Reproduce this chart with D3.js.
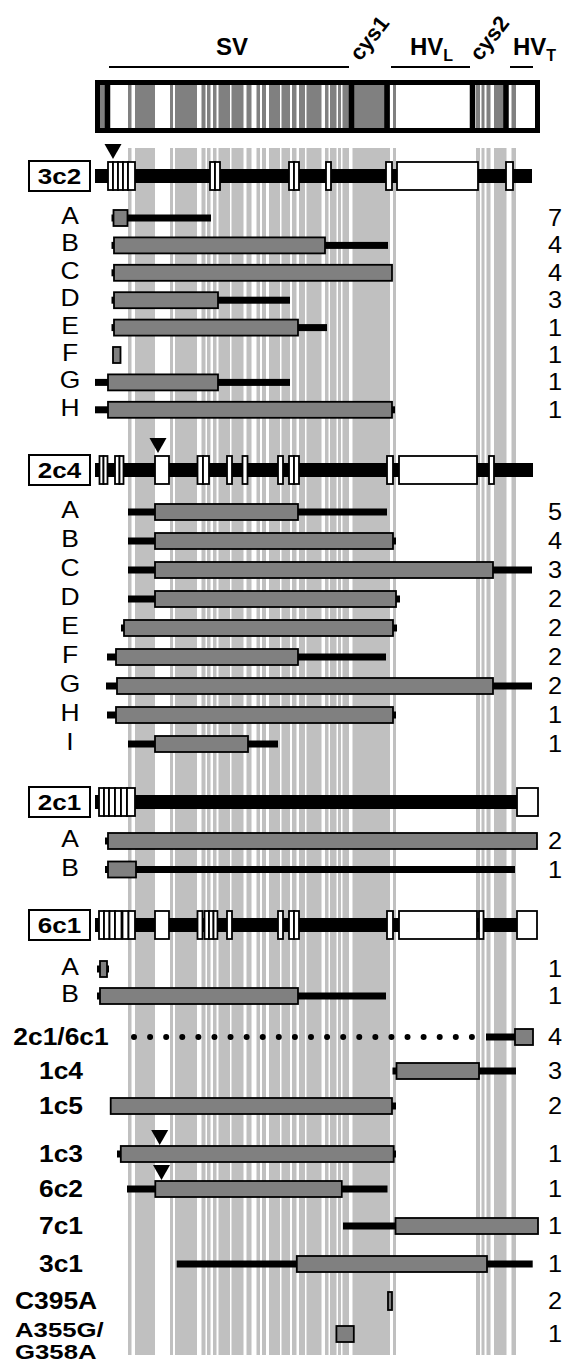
<!DOCTYPE html>
<html>
<head>
<meta charset="utf-8">
<script src="https://cdn.jsdelivr.net/npm/d3@7"></script>
<style>
  body { margin: 0; background: #fff; }
  text { font-family: "Liberation Sans", Arial, Helvetica, sans-serif; fill: #000; }
</style>
</head>
<body>
<svg id="chart"></svg>
<script>
// ---- data (positions along the sequence, arbitrary units) ----
const stripes = [
  [33, 36.5], [40, 60], [75, 78], [80, 102], [106.5, 110.5], [112, 115.5], [118, 121.5],
  [123.5, 135], [136.5, 148.5], [151.5, 156.5], [161.5, 165], [167, 171], [174, 185],
  [186.5, 195], [197, 201.5], [204, 210], [211.5, 226.5], [230, 233.5], [235, 241.5],
  [243, 246], [247.5, 254], [257.5, 295], [298, 301], [381, 385], [386.5, 389.5],
  [391.5, 395.5], [399, 411.5], [416.5, 421]
];
const topOnlyStripes = [[5, 10]];
const dividers = [12.5, 256.5, 292, 377.5, 411];
const regionLines = [[14, 254], [296, 375], [415, 438]];
const regionNames = ["SV", "cys1", "HVL", "cys2", "HVT"];

const geneNames = ["3c2", "2c4", "2c1", "6c1"];
const geneBars = [[0, 437], [0, 438], [0, 422], [0, 422]];
const geneMarks = [18, 63, null, null];
const exons3c2 = [[13, 18], [18, 23], [23, 28], [28, 33], [33, 40], [115, 120], [120, 125],
  [194, 199], [199, 204], [231, 236], [291, 297], [302, 383], [411, 418]];
const exons2c4 = [[4.5, 8.5], [8.5, 12.5], [20, 24.5], [24.5, 28.5], [60, 74], [102.5, 108], [108, 114],
  [132, 137], [147.5, 152.5], [183, 188], [194, 199], [199, 204], [292, 298], [304, 382], [394, 399]];
const exons2c1 = [[4, 9], [9, 14], [14, 20], [20, 26], [26, 32], [32, 40], [422, 443]];
const exons6c1 = [[4, 9], [9, 14.5], [14.5, 20], [20, 26.5], [27.5, 33.5], [33.5, 40], [60, 74],
  [102.5, 107.5], [109.5, 114], [114, 118.5], [118.5, 122.5], [132, 137], [183, 188],
  [194, 199], [199, 204], [292, 298], [304, 382], [384, 388.5], [422, 442]];

const rows3c2 = [
  { label: "A", line: [16.5, 116], box: [18.5, 32.5], n: 7 },
  { label: "B", line: [16.5, 293], box: [19, 230], n: 4 },
  { label: "C", line: [16.5, 297], box: [19, 297], n: 4 },
  { label: "D", line: [16.5, 195], box: [19, 123], n: 3 },
  { label: "E", line: [16.5, 232], box: [19, 203], n: 1 },
  { label: "F", line: null, box: [18, 25.5], n: 1 },
  { label: "G", line: [0, 195], box: [13, 123], n: 1 },
  { label: "H", line: [0, 300], box: [13, 297], n: 1 }
];
const rows2c4 = [
  { label: "A", line: [33, 292], box: [60, 203], n: 5 },
  { label: "B", line: [33, 301], box: [60, 298], n: 4 },
  { label: "C", line: [33, 437], box: [60, 398], n: 3 },
  { label: "D", line: [33, 305], box: [60, 301], n: 2 },
  { label: "E", line: [26, 302], box: [29, 298], n: 2 },
  { label: "F", line: [12, 291], box: [21, 203], n: 2 },
  { label: "G", line: [11, 437], box: [22, 398], n: 2 },
  { label: "H", line: [12, 301], box: [21, 298], n: 1 },
  { label: "I", line: [33, 183], box: [60, 153], n: 1 }
];
const rows2c1 = [
  { label: "A", line: [10, 440], box: [13, 442], n: 2 },
  { label: "B", line: [10, 420], box: [13, 41], n: 1 }
];
const rows6c1 = [
  { label: "A", line: [2, 14], box: [5, 12], n: 1 },
  { label: "B", line: [2, 291], box: [5, 203], n: 1 }
];
const otherRows = [
  { label: "2c1/6c1", dots: [39, 377], line: [391, 420], box: [420, 438], n: 4 },
  { label: "1c4", line: [297.5, 421], box: [301.5, 384], n: 3 },
  { label: "1c5", line: [15.7, 301], box: [15.7, 297], n: 2 },
  { label: "1c3", line: [22, 301], box: [25.8, 298.7], n: 1, mark: 64.7 },
  { label: "6c2", line: [32, 292.5], box: [60.3, 246.8], n: 1, mark: 66.5 },
  { label: "7c1", line: [248, 300.5], box: [300.5, 443], n: 1 },
  { label: "3c1", line: [81.7, 437.7], box: [201.8, 392], n: 1 },
  { label: "C395A", line: null, box: [293, 297], n: 2 },
  { label: "A355G/|G358A", line: null, box: [241.4, 258.8], n: 1 }
];

// ---- layout ----
const width = 569, height = 1364;
const x = d3.scaleLinear().domain([0, 445]).range([95, 540]);
const blocks = [
  { exons: exons3c2, rows: rows3c2, headY: 176, firstY: 218, step: 27.4 },
  { exons: exons2c4, rows: rows2c4, headY: 470, firstY: 512, step: 29 },
  { exons: exons2c1, rows: rows2c1, headY: 802, firstY: 841, step: 28.5 },
  { exons: exons6c1, rows: rows6c1, headY: 925, firstY: 969, step: 27 }
];
const otherY = [1037, 1071, 1106, 1154, 1189, 1226, 1264, 1301, 1334];

const svg = d3.select("#chart").attr("width", width).attr("height", height);

// text drawn slightly wider than the font, like the original artwork
function label(g, str, cx, cy, size, opts = {}) {
  const t = g.append("text")
    .attr("transform", `translate(${cx},${cy}) scale(${opts.sx || 1},1)`)
    .attr("dy", "0.35em")
    .attr("text-anchor", opts.anchor || "middle")
    .attr("font-size", size)
    .attr("font-weight", opts.bold ? "bold" : "normal")
    .text(str);
  return t;
}

// light gray conservation stripes behind everything
svg.append("g").selectAll("rect")
  .data(stripes)
  .join("rect")
  .attr("x", d => x(d[0]))
  .attr("width", d => x(d[1]) - x(d[0]))
  .attr("y", 148)
  .attr("height", 1207)
  .attr("fill", "#c0c0c0");

// header labels and lines
const head = svg.append("g");
head.selectAll("line")
  .data(regionLines)
  .join("line")
  .attr("x1", d => x(d[0])).attr("x2", d => x(d[1]))
  .attr("y1", 67).attr("y2", 67)
  .attr("stroke", "#000").attr("stroke-width", 2);

head.append("text").attr("x", x(137)).attr("y", 55)
  .attr("text-anchor", "middle").attr("font-weight", "bold").attr("font-size", 24)
  .text(regionNames[0]);

[[regionNames[1], (dividers[1] + dividers[2]) / 2], [regionNames[3], (dividers[3] + dividers[4]) / 2]]
  .forEach(([t, p]) => {
    head.append("text")
      .attr("transform", `translate(${x(p)},38) rotate(-52)`)
      .attr("text-anchor", "middle").attr("dy", "0.35em")
      .attr("font-weight", "bold").attr("font-size", 22)
      .text(t);
  });

[[regionNames[2], 315], [regionNames[4], 418]].forEach(([t, p]) => {
  const tx = head.append("text").attr("x", x(p)).attr("y", 55)
    .attr("font-weight", "bold").attr("font-size", 24);
  tx.append("tspan").text(t.slice(0, 2));
  tx.append("tspan").attr("dy", 6).attr("font-size", 16).text(t.slice(2));
});

// top domain bar
const domainBar = svg.append("g");
domainBar.append("rect").attr("x", x(0)).attr("y", 80).attr("width", x(445) - x(0)).attr("height", 53).attr("fill", "#fff");
domainBar.selectAll("rect.s")
  .data(stripes.concat(topOnlyStripes))
  .join("rect").attr("class", "s")
  .attr("x", d => x(d[0]))
  .attr("width", d => Math.min(x(d[1]), x(442.5)) - x(d[0]))
  .attr("y", 82).attr("height", 49)
  .attr("fill", "#808080");
domainBar.append("rect").attr("x", x(0) + 2.5).attr("y", 82.5)
  .attr("width", x(445) - x(0) - 5).attr("height", 48)
  .attr("fill", "none").attr("stroke", "#000").attr("stroke-width", 5);
domainBar.selectAll("line.d")
  .data(dividers)
  .join("line").attr("class", "d")
  .attr("x1", d => x(d)).attr("x2", d => x(d))
  .attr("y1", 80).attr("y2", 133)
  .attr("stroke", "#000").attr("stroke-width", 5.5);

// helpers
function triangle(g, px, tipY) {
  g.append("path")
    .attr("d", `M${px - 8.5},${tipY - 15}L${px + 8.5},${tipY - 15}L${px},${tipY}Z`)
    .attr("fill", "#000");
}

function fragment(g, d, y, h = 16) {
  if (d.line) {
    g.append("rect")
      .attr("x", x(d.line[0])).attr("width", x(d.line[1]) - x(d.line[0]))
      .attr("y", y - 3.5).attr("height", 7).attr("fill", "#000");
  }
  g.append("rect")
    .attr("x", x(d.box[0])).attr("width", x(d.box[1]) - x(d.box[0]))
    .attr("y", y - h / 2).attr("height", h)
    .attr("fill", "#808080").attr("stroke", "#000").attr("stroke-width", 1.8);
}

function count(g, n, y) {
  label(g, n, 555, y, 23, { sx: 1.1 });
}

// clone blocks
blocks.forEach((b, i) => {
  const g = svg.append("g");
  const y0 = b.headY;
  g.append("rect").attr("x", 29).attr("y", y0 - 15).attr("width", 61).attr("height", 30)
    .attr("fill", "#fff").attr("stroke", "#000").attr("stroke-width", 2);
  label(g, geneNames[i], 59.5, y0 + 0.5, 22, { bold: true, sx: 1.18 });

  const bar = geneBars[i];
  g.append("rect").attr("x", x(bar[0])).attr("width", x(bar[1]) - x(bar[0]))
    .attr("y", y0 - 7).attr("height", 14).attr("fill", "#000");
  g.selectAll("rect.ex")
    .data(b.exons)
    .join("rect").attr("class", "ex")
    .attr("x", d => x(d[0])).attr("width", d => x(d[1]) - x(d[0]))
    .attr("y", y0 - 14).attr("height", 28)
    .attr("fill", "#fff").attr("stroke", "#000").attr("stroke-width", 1.8);
  if (geneMarks[i] != null) triangle(g, x(geneMarks[i]), y0 - 17);

  b.rows.forEach((r, j) => {
    const y = b.firstY + j * b.step;
    label(g, r.label, 70, y - 2, 23, { sx: 1.15 });
    fragment(g, r, y);
    count(g, r.n, y);
  });
});

// other clones and point mutants
const og = svg.append("g");
otherRows.forEach((r, j) => {
  const y = otherY[j];
  const parts = r.label.split("|");
  if (parts.length > 1) {
    // two-line label kept in a single text element
    const t = label(og, "", 15, y - 4, 19.5, { bold: true, sx: 1.32, anchor: "start" });
    t.append("tspan").attr("x", 0).text(parts[0]);
    t.append("tspan").attr("x", 0).attr("dy", 22.5).text(parts[1]);
  } else if (r.label === "C395A") {
    label(og, r.label, 15, y, 24, { bold: true, sx: 1.1, anchor: "start" });
  } else {
    label(og, r.label, 61, y, 24, { bold: true, sx: 1.1 });
  }
  if (r.dots) {
    og.append("line")
      .attr("x1", x(r.dots[0])).attr("x2", x(r.dots[1]) + 1)
      .attr("y1", y).attr("y2", y)
      .attr("stroke", "#000").attr("stroke-width", 6)
      .attr("stroke-linecap", "round").attr("stroke-dasharray", "0 16.09");
  }
  fragment(og, r, y, r.label === "C395A" ? 18 : 16);
  if (r.mark != null) triangle(og, x(r.mark), y - 9);
  count(og, r.n, y);
});
</script>
</body>
</html>
